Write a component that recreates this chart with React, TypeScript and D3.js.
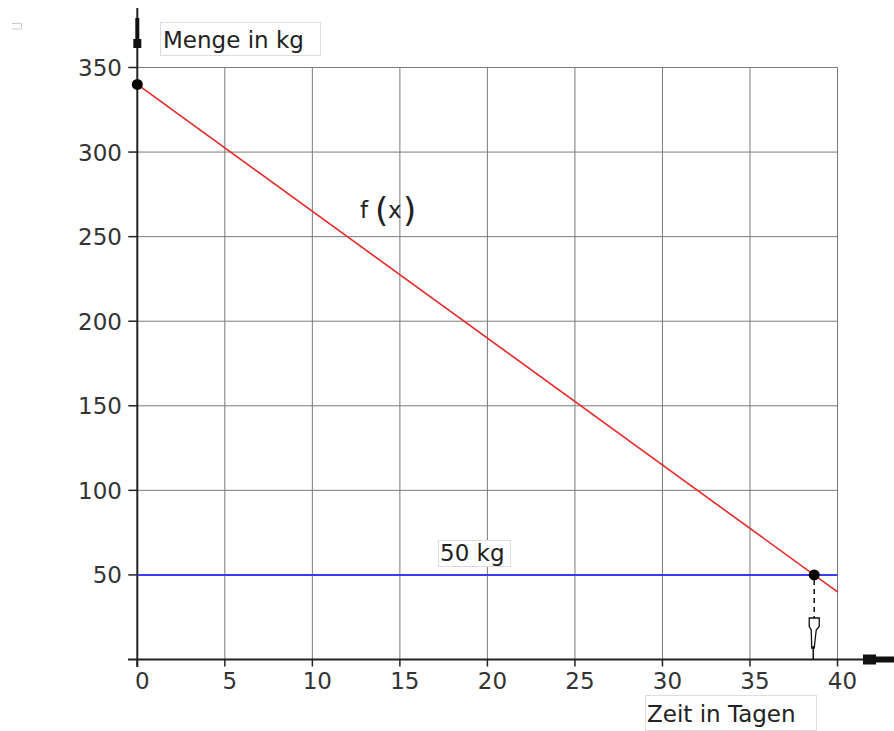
import React from "react";
import * as d3 from "d3";

const xTicks = [0, 5, 10, 15, 20, 25, 30, 35, 40];
const yTicks = [50, 100, 150, 200, 250, 300, 350];
const lineX = [0, 40];
const lineY = [340, 40];
const thresholdY = 50;
const startPoint = [0, 340];
const hitPoint = [38.67, 50];

const W = 894;
const H = 731;
const FONT = "'DejaVu Sans', Verdana, sans-serif";

export default function App() {
  const x = d3.scaleLinear().domain([0, 40]).range([137.3, 837.5]);
  const y = d3.scaleLinear().domain([0, 350]).range([659.5, 67.5]);
  const line = d3.line<number>().x((_, i) => x(lineX[i])).y((d) => y(d));
  const x0 = x(0), y0 = y(0);
  const hx = x(hitPoint[0]), hy = y(hitPoint[1]);
  return (
    <svg width={W} height={H} style={{ position: "absolute", left: 0, top: 0, background: "#fff" }}>
      {/* small mark top-left */}
      <path d="M12,23.5 H21.5 V29 H12" fill="none" stroke="#ccc" strokeWidth={1} />
      {/* grid */}
      {xTicks.filter((t) => t > 0).map((t) => (
        <line key={"gx" + t} x1={x(t)} x2={x(t)} y1={y(0)} y2={y(350)} stroke="#7a7a7a" strokeWidth={1} />
      ))}
      {yTicks.map((t) => (
        <line key={"gy" + t} x1={x(0)} x2={x(40)} y1={y(t)} y2={y(t)} stroke="#7a7a7a" strokeWidth={1} />
      ))}
      {/* axes */}
      <line x1={128} x2={866} y1={y0} y2={y0} stroke="#222" strokeWidth={2} />
      <line x1={x0} x2={x0} y1={8} y2={667} stroke="#222" strokeWidth={2} />
      {/* y ticks */}
      {yTicks.map((t) => (
        <g key={"yt" + t}>
          <line x1={x0 - 9} x2={x0} y1={y(t)} y2={y(t)} stroke="#222" strokeWidth={1.5} />
          <text x={122} y={y(t) + 8.5} textAnchor="end" fontFamily={FONT} fontSize={23} fill="#333">{t}</text>
        </g>
      ))}
      {/* x ticks */}
      {xTicks.map((t) => (
        <g key={"xt" + t}>
          <line x1={x(t)} x2={x(t)} y1={y0} y2={y0 + 7} stroke="#222" strokeWidth={1.5} />
          <text x={x(t) + 5} y={689} textAnchor="middle" fontFamily={FONT} fontSize={23} fill="#333">{t}</text>
        </g>
      ))}
      {/* y arrow */}
      <rect x={x0 - 2} y={18} width={4} height={24} fill="#111" />
      <rect x={x0 - 4} y={39} width={8} height={9} fill="#111" />
      {/* x arrow */}
      <rect x={863} y={654.5} width={13} height={10} fill="#111" />
      <rect x={875} y={656.5} width={19} height={6} fill="#111" />
      {/* threshold line */}
      <line x1={x0} x2={x(40)} y1={y(thresholdY)} y2={y(thresholdY)} stroke="#3a3aef" strokeWidth={2} />
      {/* function line */}
      <path d={line(lineY) || ""} fill="none" stroke="#e82828" strokeWidth={1.6} />
      {/* points */}
      <circle cx={x(startPoint[0])} cy={y(startPoint[1])} r={5.5} fill="#000" />
      <circle cx={hx} cy={hy} r={5.5} fill="#000" />
      {/* dashed drop line and hollow arrow */}
      <line x1={hx} x2={hx} y1={hy + 5} y2={618} stroke="#111" strokeWidth={1.5} strokeDasharray="5,4" />
      <path
        d={`M${hx - 5},618 H${hx + 5} V626.5 L${hx + 2},630 L${hx},648 L${hx - 2.5},648 L${hx - 3},630 L${hx - 5},626.5 Z`}
        fill="#fff"
        stroke="#111"
        strokeWidth={1.3}
      />
      <line x1={hx - 1} x2={hx - 1} y1={646} y2={y0} stroke="#111" strokeWidth={1.5} />
      {/* labels */}
      <rect x={160.5} y={22.5} width={160} height={33} fill="#fff" stroke="#ddd" strokeWidth={1} />
      <text x={163} y={48} fontFamily={FONT} fontSize={23} fill="#222">Menge in kg</text>
      <rect x={645.5} y={695.5} width={171} height={35} fill="#fff" stroke="#ddd" strokeWidth={1} />
      <text x={647} y={722} fontFamily={FONT} fontSize={23} fill="#222">Zeit in Tagen</text>
      <rect x={438.5} y={540.5} width={72} height={26} fill="#fff" stroke="#ddd" strokeWidth={1} />
      <text x={440} y={561} fontFamily={FONT} fontSize={23} fill="#222">50 kg</text>
      <text y={218} fontFamily={FONT} fill="#222">
        <tspan x={360} fontSize={23}>f</tspan>
        <tspan x={375} fontSize={34} y={222}>(</tspan>
        <tspan x={388} fontSize={23} y={218}>x</tspan>
        <tspan x={403} fontSize={34} y={222}>)</tspan>
      </text>
    </svg>
  );
}
